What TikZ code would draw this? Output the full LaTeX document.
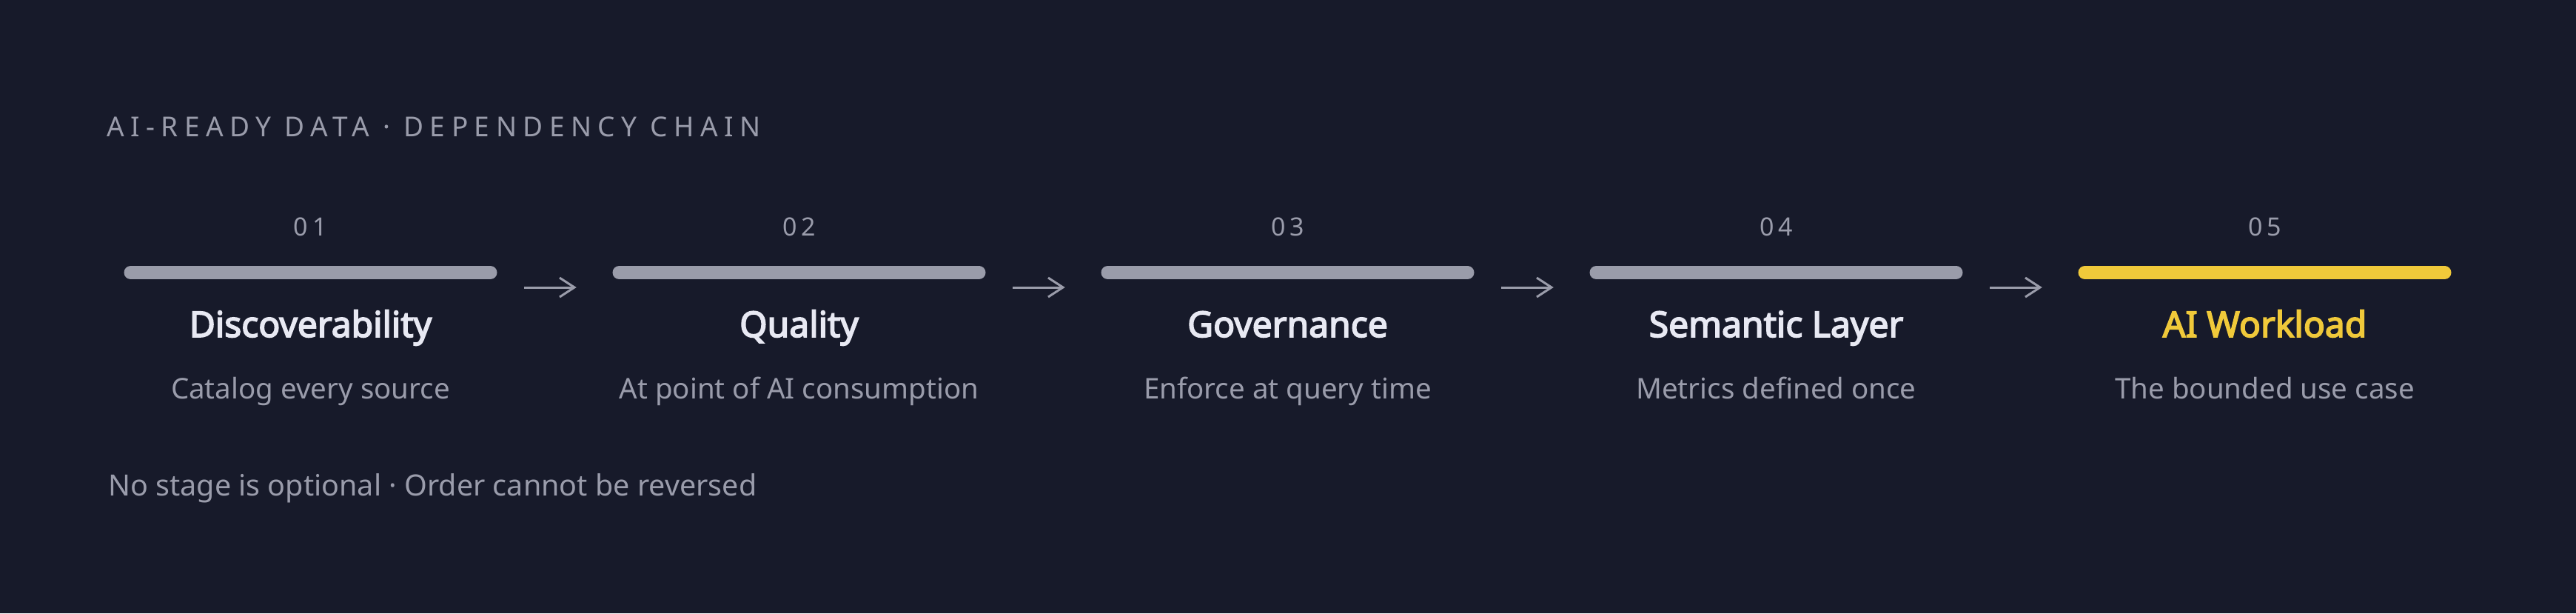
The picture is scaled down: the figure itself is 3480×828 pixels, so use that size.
\documentclass[tikz,border=0pt]{standalone}
\usepackage{fontspec}
\setmainfont{Noto Sans}
\newfontfamily\spacedfont[LetterSpace=23]{Noto Sans}
\newfontfamily\numfont[LetterSpace=18]{Noto Sans}
\newfontfamily\headfont[FakeBold=3.4]{Noto Sans}
\definecolor{bg}{HTML}{171A2A}
\definecolor{bargray}{HTML}{9A9CAA}
\definecolor{txtgray}{HTML}{9A9CAB}
\definecolor{headwhite}{HTML}{E8E9F3}
\definecolor{accent}{HTML}{F0C93A}
\tikzset{
  titletext/.style={anchor=base west, text=txtgray, inner sep=0pt, font=\spacedfont\fontsize{37}{44}\selectfont},
  numtext/.style={anchor=base, text=txtgray, inner sep=0pt, font=\numfont\fontsize{34}{40}\selectfont},
  headtext/.style={anchor=base, text=headwhite, inner sep=0pt, font=\headfont\fontsize{48}{56}\selectfont},
  subtext/.style={anchor=base, text=txtgray, inner sep=0pt, font=\fontsize{38.5}{46}\selectfont},
  foottext/.style={anchor=base west, text=txtgray, inner sep=0pt, font=\fontsize{39.5}{46}\selectfont},
  stagebar/.style={line width=18pt, line cap=round, draw=bargray},
  flowarrow/.style={draw=bargray, line width=3pt}
}
\begin{document}
\begin{tikzpicture}[x=1pt,y=-1pt]
\fill[bg] (0,0) rectangle (3480,828);
\useasboundingbox (0,0) rectangle (3480,828);
\node[titletext] (title) at (144,184) {AI-READY DATA · DEPENDENCY CHAIN};
% stages
\foreach \i/\n/\h/\s in {0/01/Discoverability/Catalog every source,
                        1/02/Quality/At point of AI consumption,
                        2/03/Governance/Enforce at query time,
                        3/04/Semantic Layer/Metrics defined once}{
  \pgfmathsetmacro{\cx}{419.5+660*\i}
  \node[numtext] (num\i) at (\cx,318) {\n};
  \coordinate (bl\i) at (\cx-243,368);
  \coordinate (br\i) at (\cx+243,368);
  \draw[stagebar] (bl\i) -- (br\i);
  \node[headtext] (head\i) at (\cx,455) {\h};
  \node[subtext] (sub\i) at (\cx,538) {\s};
}
\node[numtext] (num4) at (3059.5,318) {05};
\coordinate (bl4) at (2816.5,368);
\coordinate (br4) at (3302.5,368);
\draw[stagebar, draw=accent] (bl4) -- (br4);
\node[headtext, text=accent] (head4) at (3059.5,455) {AI Workload};
\node[subtext] (sub4) at (3059.5,538) {The bounded use case};
% arrows
\foreach \i in {0,1,2,3}{
  \pgfmathsetmacro{\ax}{708+660*\i}
  \coordinate (as\i) at (\ax,388);
  \coordinate (ae\i) at (\ax+68,388);
  \draw[flowarrow] (as\i) -- (ae\i);
  \draw[flowarrow, line join=miter] ([shift={(-20,-13)}]ae\i) -- (ae\i) -- ([shift={(-20,13)}]ae\i);
}
\node[foottext] (foot) at (146,669) {No stage is optional · Order cannot be reversed};
\end{tikzpicture}
\end{document}
